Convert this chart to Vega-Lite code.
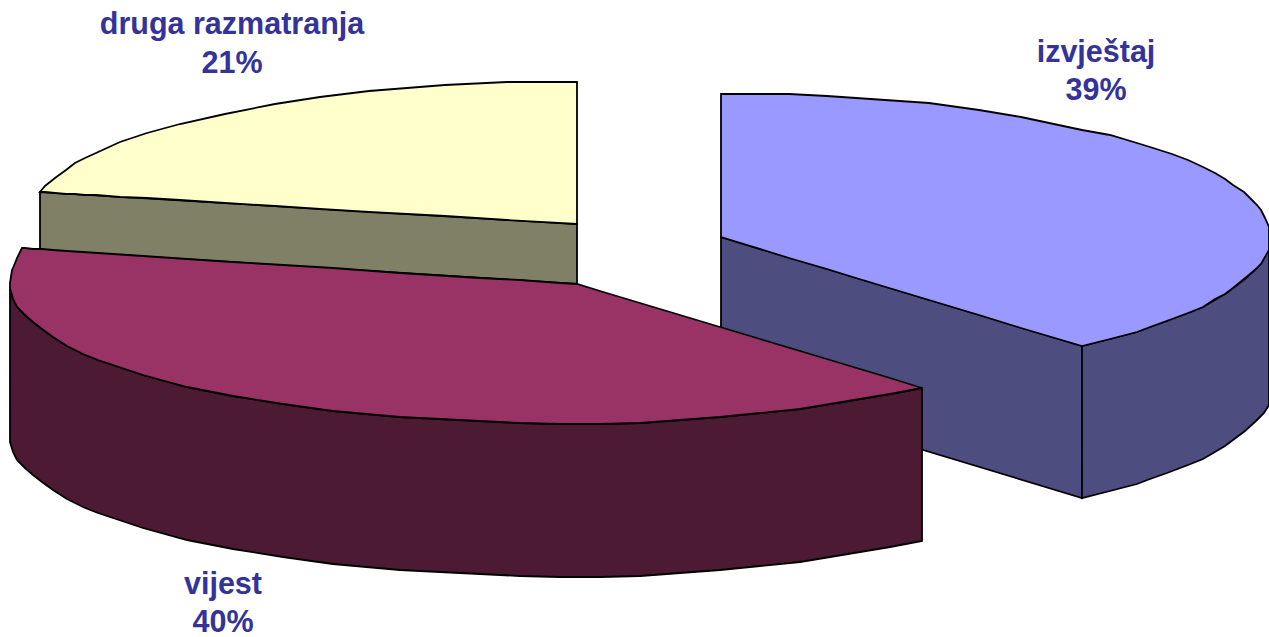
{"$schema":"https://vega.github.io/schema/vega-lite/v6.json","width":1269,"height":637,"padding":0,"autosize":"none","background":"white","view":{"stroke":null},
"datasets":{"shapes":[
{"part":"druga side","x":40,"y":192,"y2":250},{"part":"druga side","x":577,"y":224,"y2":284},
{"part":"druga top","x":40,"y":192,"y2":192},{"part":"druga top","x":45,"y":186,"y2":192},{"part":"druga top","x":55,"y":178,"y2":193},{"part":"druga top","x":66,"y":170,"y2":194},{"part":"druga top","x":75,"y":163,"y2":194},{"part":"druga top","x":85,"y":158,"y2":195},{"part":"druga top","x":96,"y":153,"y2":195},{"part":"druga top","x":120,"y":142,"y2":197},{"part":"druga top","x":147,"y":133,"y2":198},{"part":"druga top","x":180,"y":124,"y2":200},{"part":"druga top","x":225,"y":114,"y2":203},{"part":"druga top","x":275,"y":104,"y2":206},{"part":"druga top","x":320,"y":97,"y2":209},{"part":"druga top","x":369,"y":91,"y2":212},{"part":"druga top","x":445,"y":85,"y2":216},{"part":"druga top","x":507,"y":82,"y2":220},{"part":"druga top","x":577,"y":82,"y2":224},
{"part":"izvjestaj face","x":721,"y":237,"y2":389},{"part":"izvjestaj face","x":1082,"y":346,"y2":498},
{"part":"izvjestaj side","x":1082,"y":346,"y2":498},{"part":"izvjestaj side","x":1110,"y":339,"y2":491},{"part":"izvjestaj side","x":1137,"y":332,"y2":484},{"part":"izvjestaj side","x":1150,"y":327,"y2":479},{"part":"izvjestaj side","x":1167,"y":321,"y2":473},{"part":"izvjestaj side","x":1188,"y":313,"y2":465},{"part":"izvjestaj side","x":1203,"y":307,"y2":459},{"part":"izvjestaj side","x":1225,"y":294,"y2":446},{"part":"izvjestaj side","x":1233,"y":288,"y2":440},{"part":"izvjestaj side","x":1245,"y":279,"y2":431},{"part":"izvjestaj side","x":1257,"y":268,"y2":420},{"part":"izvjestaj side","x":1264,"y":257,"y2":413},{"part":"izvjestaj side","x":1269,"y":250,"y2":405},
{"part":"izvjestaj top","x":721,"y":94,"y2":237},{"part":"izvjestaj top","x":789,"y":94,"y2":258},{"part":"izvjestaj top","x":827,"y":96,"y2":269},{"part":"izvjestaj top","x":856,"y":98,"y2":278},{"part":"izvjestaj top","x":929,"y":103,"y2":300},{"part":"izvjestaj top","x":979,"y":110,"y2":315},{"part":"izvjestaj top","x":1021,"y":117,"y2":328},{"part":"izvjestaj top","x":1082,"y":130,"y2":346},{"part":"izvjestaj top","x":1110,"y":135,"y2":339},{"part":"izvjestaj top","x":1137,"y":143,"y2":332},{"part":"izvjestaj top","x":1150,"y":147,"y2":327},{"part":"izvjestaj top","x":1172,"y":154,"y2":319},{"part":"izvjestaj top","x":1188,"y":160,"y2":313},{"part":"izvjestaj top","x":1203,"y":167,"y2":307},{"part":"izvjestaj top","x":1215,"y":173,"y2":299},{"part":"izvjestaj top","x":1225,"y":179,"y2":294},{"part":"izvjestaj top","x":1233,"y":185,"y2":288},{"part":"izvjestaj top","x":1244,"y":192,"y2":279},{"part":"izvjestaj top","x":1250,"y":198,"y2":274},{"part":"izvjestaj top","x":1257,"y":205,"y2":268},{"part":"izvjestaj top","x":1261,"y":210,"y2":264},{"part":"izvjestaj top","x":1265,"y":218,"y2":257},{"part":"izvjestaj top","x":1269,"y":227,"y2":250},
{"part":"vijest side","x":10,"y":289,"y2":442},{"part":"vijest side","x":13,"y":299,"y2":452},{"part":"vijest side","x":17,"y":307,"y2":460},{"part":"vijest side","x":25,"y":315,"y2":468},{"part":"vijest side","x":33,"y":322,"y2":475},{"part":"vijest side","x":42,"y":329,"y2":482},{"part":"vijest side","x":53,"y":337,"y2":490},{"part":"vijest side","x":67,"y":346,"y2":499},{"part":"vijest side","x":83,"y":354,"y2":507},{"part":"vijest side","x":98,"y":360,"y2":513},{"part":"vijest side","x":113,"y":365,"y2":518},{"part":"vijest side","x":143,"y":375,"y2":528},{"part":"vijest side","x":187,"y":387,"y2":540},{"part":"vijest side","x":233,"y":396,"y2":549},{"part":"vijest side","x":283,"y":404,"y2":557},{"part":"vijest side","x":333,"y":411,"y2":564},{"part":"vijest side","x":400,"y":417,"y2":570},{"part":"vijest side","x":480,"y":421,"y2":574},{"part":"vijest side","x":520,"y":423,"y2":576},{"part":"vijest side","x":560,"y":424,"y2":577},{"part":"vijest side","x":600,"y":424,"y2":577},{"part":"vijest side","x":640,"y":423,"y2":576},{"part":"vijest side","x":680,"y":420,"y2":573},{"part":"vijest side","x":720,"y":417,"y2":570},{"part":"vijest side","x":760,"y":413,"y2":566},{"part":"vijest side","x":800,"y":409,"y2":562},{"part":"vijest side","x":830,"y":404,"y2":557},{"part":"vijest side","x":860,"y":399,"y2":552},{"part":"vijest side","x":890,"y":394,"y2":547},{"part":"vijest side","x":922,"y":388,"y2":541},
{"part":"vijest top","x":10,"y":283,"y2":289},{"part":"vijest top","x":12,"y":270,"y2":295},{"part":"vijest top","x":13,"y":268,"y2":299},{"part":"vijest top","x":17,"y":258,"y2":307},{"part":"vijest top","x":22,"y":248,"y2":312},{"part":"vijest top","x":25,"y":248,"y2":315},{"part":"vijest top","x":33,"y":249,"y2":322},{"part":"vijest top","x":42,"y":249,"y2":329},{"part":"vijest top","x":53,"y":250,"y2":337},{"part":"vijest top","x":67,"y":251,"y2":346},{"part":"vijest top","x":83,"y":252,"y2":354},{"part":"vijest top","x":98,"y":253,"y2":360},{"part":"vijest top","x":113,"y":254,"y2":365},{"part":"vijest top","x":143,"y":256,"y2":375},{"part":"vijest top","x":187,"y":259,"y2":387},{"part":"vijest top","x":233,"y":262,"y2":396},{"part":"vijest top","x":283,"y":265,"y2":404},{"part":"vijest top","x":333,"y":268,"y2":411},{"part":"vijest top","x":400,"y":273,"y2":417},{"part":"vijest top","x":480,"y":278,"y2":421},{"part":"vijest top","x":520,"y":280,"y2":423},{"part":"vijest top","x":560,"y":283,"y2":424},{"part":"vijest top","x":577,"y":284,"y2":424},{"part":"vijest top","x":600,"y":291,"y2":424},{"part":"vijest top","x":640,"y":303,"y2":423},{"part":"vijest top","x":680,"y":315,"y2":420},{"part":"vijest top","x":720,"y":327,"y2":417},{"part":"vijest top","x":760,"y":339,"y2":413},{"part":"vijest top","x":800,"y":351,"y2":409},{"part":"vijest top","x":830,"y":360,"y2":404},{"part":"vijest top","x":860,"y":369,"y2":399},{"part":"vijest top","x":890,"y":378,"y2":394},{"part":"vijest top","x":922,"y":388,"y2":388}
],
"labels":[{"t":"druga razmatranja","x":232,"y":34},{"t":"21%","x":232,"y":73},{"t":"izvještaj","x":1096,"y":62},{"t":"39%","x":1096,"y":100},{"t":"vijest","x":223,"y":594},{"t":"40%","x":223,"y":632}]},
"layer":[
{"data":{"name":"shapes"},"transform":[{"filter":"datum.part==='druga side'"}],"mark":{"type":"area","stroke":"#000","strokeWidth":1.8},"encoding":{"x":{"field":"x","type":"quantitative","scale":{"domain":[0,1269],"nice":false,"zero":false},"axis":null},"y":{"field":"y","type":"quantitative","scale":{"domain":[637,0],"nice":false,"zero":false},"axis":null},"y2":{"field":"y2"},"fill":{"field":"part","type":"nominal","legend":null,"scale":{"domain":["druga side","druga top","izvjestaj face","izvjestaj side","izvjestaj top","vijest side","vijest top"],"range":["#808066","#FFFFCC","#4D4D80","#4D4D80","#9999FF","#4D1A33","#993366"]}}}},
{"data":{"name":"shapes"},"transform":[{"filter":"datum.part==='druga top'"}],"mark":{"type":"area","stroke":"#000","strokeWidth":1.8},"encoding":{"x":{"field":"x","type":"quantitative"},"y":{"field":"y","type":"quantitative"},"y2":{"field":"y2"},"fill":{"field":"part","type":"nominal"}}},
{"data":{"name":"shapes"},"transform":[{"filter":"datum.part==='izvjestaj face'"}],"mark":{"type":"area","stroke":"#000","strokeWidth":1.8},"encoding":{"x":{"field":"x","type":"quantitative"},"y":{"field":"y","type":"quantitative"},"y2":{"field":"y2"},"fill":{"field":"part","type":"nominal"}}},
{"data":{"name":"shapes"},"transform":[{"filter":"datum.part==='izvjestaj side'"}],"mark":{"type":"area","stroke":"#000","strokeWidth":1.8},"encoding":{"x":{"field":"x","type":"quantitative"},"y":{"field":"y","type":"quantitative"},"y2":{"field":"y2"},"fill":{"field":"part","type":"nominal"}}},
{"data":{"name":"shapes"},"transform":[{"filter":"datum.part==='izvjestaj top'"}],"mark":{"type":"area","stroke":"#000","strokeWidth":1.8},"encoding":{"x":{"field":"x","type":"quantitative"},"y":{"field":"y","type":"quantitative"},"y2":{"field":"y2"},"fill":{"field":"part","type":"nominal"}}},
{"data":{"name":"shapes"},"transform":[{"filter":"datum.part==='vijest side'"}],"mark":{"type":"area","stroke":"#000","strokeWidth":1.8},"encoding":{"x":{"field":"x","type":"quantitative"},"y":{"field":"y","type":"quantitative"},"y2":{"field":"y2"},"fill":{"field":"part","type":"nominal"}}},
{"data":{"name":"shapes"},"transform":[{"filter":"datum.part==='vijest top'"}],"mark":{"type":"area","stroke":"#000","strokeWidth":1.8},"encoding":{"x":{"field":"x","type":"quantitative"},"y":{"field":"y","type":"quantitative"},"y2":{"field":"y2"},"fill":{"field":"part","type":"nominal"}}},
{"data":{"name":"labels"},"mark":{"type":"text","font":"Liberation Sans","fontWeight":"bold","fontSize":30.5,"color":"#333399","align":"center","baseline":"alphabetic"},"encoding":{"x":{"field":"x","type":"quantitative"},"y":{"field":"y","type":"quantitative"},"text":{"field":"t","type":"nominal"}}}
]}
